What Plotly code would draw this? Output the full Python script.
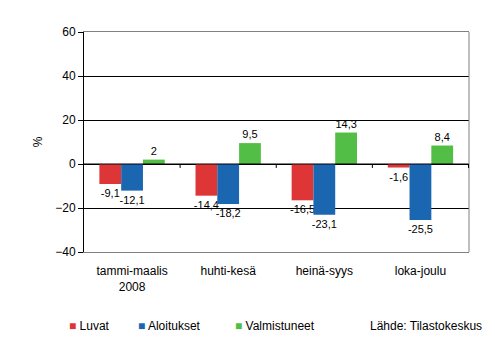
import plotly.graph_objects as go

categories = ["tammi-maalis<br>2008", "huhti-kesä", "heinä-syys", "loka-joulu"]
luvat = [-9.1, -14.4, -16.5, -1.6]
aloitukset = [-12.1, -18.2, -23.1, -25.5]
valmistuneet = [2, 9.5, 14.3, 8.4]
series_names = ["Luvat", "Aloitukset", "Valmistuneet"]
colors = ["#DE3537", "#1A66B0", "#52BE45"]
y_ticks = [-40, -20, 0, 20, 40, 60]

def fmt(v):
    return ("%g" % v).replace(".", ",")

fig = go.Figure()
for name, vals, col in zip(series_names, [luvat, aloitukset, valmistuneet], colors):
    fig.add_trace(go.Bar(
        x=categories, y=vals, name=name, marker_color=col, marker_line_width=0,
        text=[fmt(v) for v in vals], textposition="outside", constraintext="none",
        cliponaxis=False, textfont=dict(size=11, color="black"), showlegend=False,
    ))

shapes = [
    dict(type="line", xref="paper", yref="y", x0=0, x1=1, y0=0, y1=0,
         line=dict(color="black", width=1), layer="above"),
    dict(type="line", xref="paper", yref="paper", x0=1, x1=1, y0=0, y1=1,
         line=dict(color="#808080", width=1), layer="above"),
]
for b in [0.5, 1.5, 2.5, 3.5]:
    shapes.append(dict(type="line", xref="x", yref="y", x0=b, x1=b, y0=0, y1=-1.8,
                       line=dict(color="black", width=1), layer="above"))

# legend built as annotations (small squares next to text)
legend_x_px = [67, 136, 233]
legend_y = (252 - 326) / 220
annotations = []
for name, col, px in zip(series_names, colors, legend_x_px):
    annotations.append(dict(
        text='<span style="color:%s">■</span> %s' % (col, name),
        xref="paper", yref="paper", x=(px - 84) / 385, y=legend_y,
        xanchor="left", yanchor="middle", showarrow=False, font=dict(size=12)))
annotations.append(dict(text="Lähde: Tilastokeskus", xref="paper", yref="paper",
                        x=(484 - 84) / 385, y=legend_y, xanchor="right",
                        yanchor="middle", showarrow=False, font=dict(size=12)))

fig.update_layout(
    width=495, height=344,
    margin=dict(l=84, r=26, t=32, b=92, autoexpand=False),
    paper_bgcolor="white", plot_bgcolor="white",
    font=dict(family="Liberation Sans, Arial, sans-serif", size=12, color="black"),
    barmode="group", bargap=0.32, bargroupgap=0,
    showlegend=False,
    shapes=shapes,
    annotations=annotations,
)
fig.update_xaxes(showline=True, linecolor="#808080", linewidth=1, mirror=True,
                 showgrid=False, ticks="", tickfont=dict(size=12), ticklabelstandoff=8)
fig.update_yaxes(range=[-40, 60], tickvals=y_ticks, showgrid=True, gridcolor="black",
                 gridwidth=1, zeroline=False, showline=True, linecolor="black",
                 ticks="outside", ticklen=5, tickcolor="black",
                 title=dict(text="%", standoff=10, font=dict(size=12)),
                 tickfont=dict(size=12))

fig.write_html("out.html")
